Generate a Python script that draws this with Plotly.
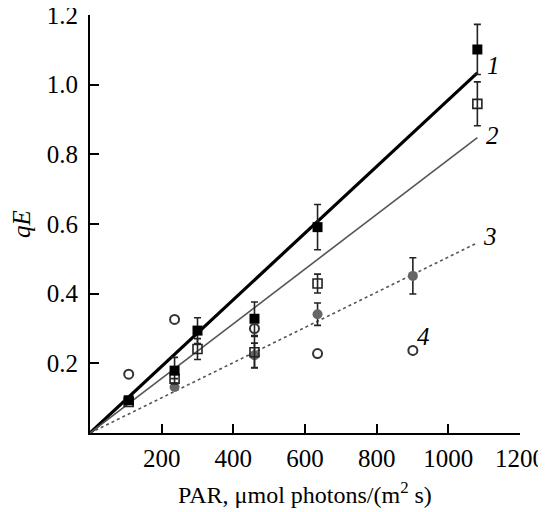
import plotly.graph_objects as go

# Series data
x1 = [108, 236, 300, 459, 635, 1081]
y1 = [0.094, 0.179, 0.294, 0.328, 0.591, 1.101]
e1 = [0.0, 0.038, 0.037, 0.048, 0.065, 0.072]

x2 = [108, 236, 300, 459, 635, 1081]
y2 = [0.089, 0.156, 0.241, 0.232, 0.429, 0.945]
e2 = [0.0, 0.0, 0.03, 0.045, 0.027, 0.063]

x3 = [236, 459, 635, 901]
y3 = [0.132, 0.223, 0.341, 0.451]
e3 = [0.0, 0.035, 0.032, 0.052]

x4 = [108, 236, 459, 635, 901]
y4 = [0.169, 0.326, 0.300, 0.228, 0.237]

# Fitted lines (start at origin)
fit_x = [[0, 1081], [0, 1081], [0, 1081]]
fit_y = [[0, 1.034], [0, 0.848], [0, 0.546]]

curve_labels = ["1", "2", "3", "4"]
label_x = [1126, 1122, 1115, 932]
label_y = [1.056, 0.855, 0.564, 0.278]

xticks = [200, 400, 600, 800, 1000, 1200]
yticks = [0.2, 0.4, 0.6, 0.8, 1.0, 1.2]

FONT = "Liberation Serif"

fig = go.Figure()

fig.add_trace(go.Scatter(x=fit_x[0], y=fit_y[0], mode="lines",
                         line=dict(color="black", width=3.2), showlegend=False))
fig.add_trace(go.Scatter(x=fit_x[1], y=fit_y[1], mode="lines",
                         line=dict(color="#555555", width=1.6), showlegend=False))
fig.add_trace(go.Scatter(x=fit_x[2], y=fit_y[2], mode="lines",
                         line=dict(color="#555555", width=1.6, dash="dot"), showlegend=False))

err = dict(type="data", thickness=1.6, width=3.5, color="#222222")

fig.add_trace(go.Scatter(x=x3, y=y3, mode="markers",
                         error_y=dict(array=e3, **err),
                         marker=dict(symbol="circle", size=10, color="#666666"),
                         showlegend=False))
fig.add_trace(go.Scatter(x=x2, y=y2, mode="markers",
                         error_y=dict(array=e2, **err),
                         marker=dict(symbol="square-open", size=9, color="#222222",
                                     line=dict(width=1.6)),
                         showlegend=False))
fig.add_trace(go.Scatter(x=x1, y=y1, mode="markers",
                         error_y=dict(array=e1, **err),
                         marker=dict(symbol="square", size=10, color="black"),
                         showlegend=False))
fig.add_trace(go.Scatter(x=x4, y=y4, mode="markers",
                         marker=dict(symbol="circle-open", size=9, color="#333333",
                                     line=dict(width=2)),
                         showlegend=False))

for t, lx, ly in zip(curve_labels, label_x, label_y):
    fig.add_annotation(x=lx, y=ly, text=f"<i>{t}</i>", showarrow=False,
                       font=dict(family=FONT, size=25, color="black"))

fig.update_layout(
    width=538, height=504,
    margin=dict(l=82, r=26, t=7, b=79),
    paper_bgcolor="white", plot_bgcolor="white",
    font=dict(family=FONT, size=25, color="black"),
    xaxis=dict(range=[0, 1200], tickvals=xticks, ticks="inside", ticklen=9,
               tickwidth=2, tickcolor="black", showline=True, linecolor="black",
               linewidth=2, showgrid=False, zeroline=False, ticklabelstandoff=2,
               automargin=False, ticklabeloverflow="allow",
               title=dict(text="PAR, μmol photons/(m<sup>2</sup> s)", standoff=15,
                          font=dict(size=24))),
    yaxis=dict(range=[0, 1.2], tickvals=yticks, tickformat=".1f", ticks="inside",
               ticklen=9, tickwidth=2, tickcolor="black", showline=True,
               linecolor="black", linewidth=2, showgrid=False, zeroline=False,
               ticklabelstandoff=5, automargin=False, ticklabeloverflow="allow",
               title=dict(text="<i>qE</i>", standoff=17, font=dict(size=25))),
)

fig.write_html("out.html")
